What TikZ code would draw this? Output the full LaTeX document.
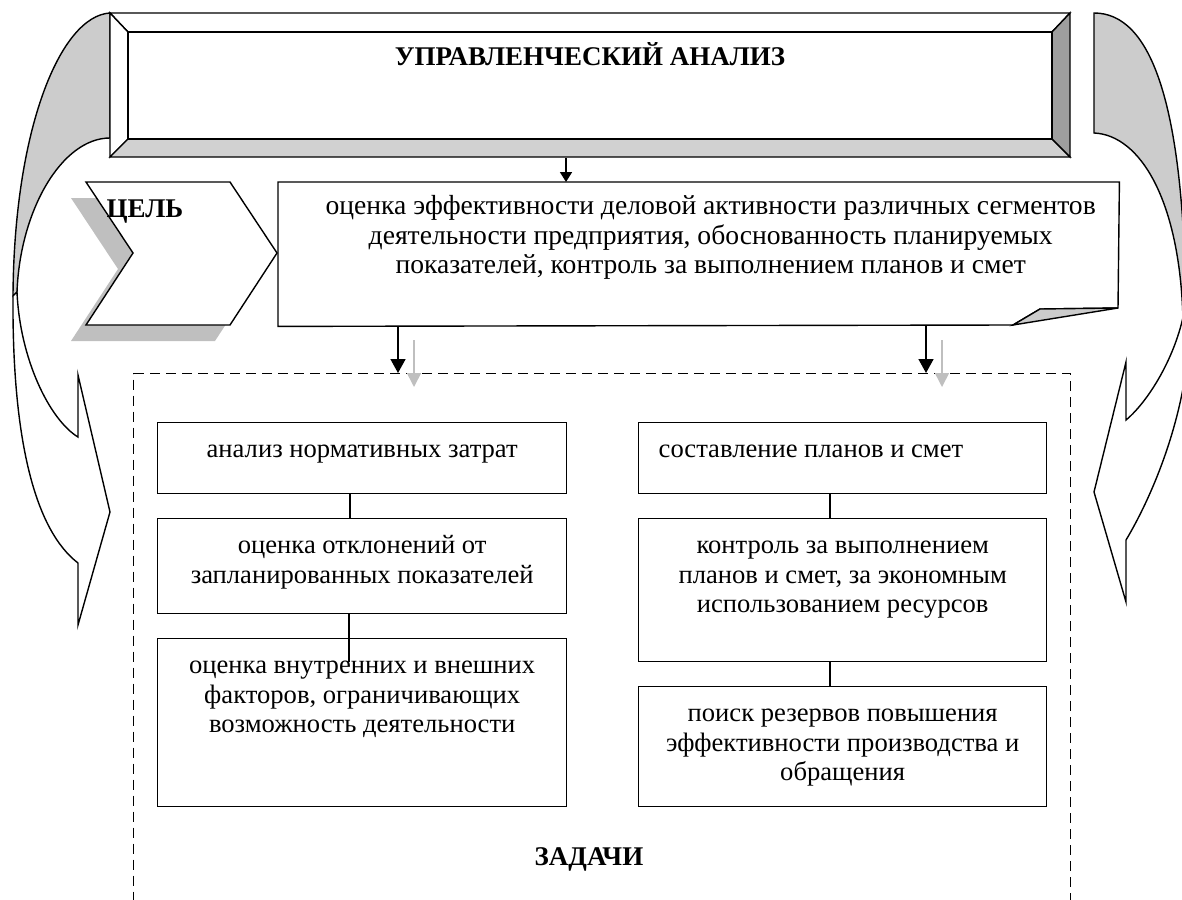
\documentclass[tikz,border=0pt]{standalone}
\usepackage{fontspec}
\setmainfont{Liberation Serif}
\usetikzlibrary{arrows.meta}
\definecolor{backgray}{gray}{0.8}
\definecolor{bevelbottom}{gray}{0.82}
\definecolor{bevelright}{gray}{0.62}
\definecolor{shadowgray}{gray}{0.75}
\definecolor{arrowgray}{gray}{0.75}
\definecolor{foldgray}{gray}{0.8}
\begin{document}
\begin{tikzpicture}[x=1pt,y=-1pt,line width=1.4pt,line join=miter,
  goalfont/.style={font=\fontsize{27.6}{29.5}\selectfont,inner sep=0pt,align=center},
  bodytext/.style={font=\fontsize{26.6}{29.5}\selectfont,inner sep=0pt,align=center},
  headtext/.style={font=\fontsize{27}{29.5}\selectfont\bfseries,inner sep=0pt},
  taskbox/.style={draw,rectangle,anchor=north west,inner sep=0pt},
  blankbox/.style={rectangle,anchor=north west,inner sep=0pt},
  mainarrow/.style={-{Triangle[length=14pt,width=15pt]},line width=1.6pt},
  smallarrow/.style={-{Triangle[length=10pt,width=12pt]},line width=1.6pt},
  greyarrow/.style={draw=arrowgray,-{Triangle[length=14pt,width=14pt]},line width=1.6pt},
  dashedframe/.style={draw,dash pattern=on 10pt off 6pt,line width=1.4pt}]
\useasboundingbox (0,0) rectangle (1182,899);
\clip (0,0) rectangle (1182,899);

% left curved arrow: shaded back band, then white front band with head
\filldraw[fill=backgray] (110,13) .. controls (60,16) and (14,130) .. (13,296)
  -- (17,292) .. controls (20,210) and (62,138) .. (110,138) -- cycle;
\filldraw[fill=white] (13,296) .. controls (12,440) and (35,530) .. (78,563)
  -- (78,625) -- (110,512) -- (78,375) -- (78,437)
  .. controls (50,420) and (20,360) .. (17,292) -- cycle;

% right curved arrow
\filldraw[fill=backgray] (1094,13) .. controls (1150,13) and (1186,100) .. (1186,330)
  -- (1183,320) .. controls (1180,200) and (1140,135) .. (1094,133) -- cycle;
\filldraw[fill=white] (1186,300) .. controls (1180,350) and (1150,400) .. (1126,420)
  -- (1126,362) -- (1094,492) -- (1126,602) -- (1126,540)
  .. controls (1150,500) and (1186,420) .. (1190,330) -- cycle;

% bevelled title frame
\node[blankbox,minimum width=960pt,minimum height=144pt] (title) at (110,13) {};
\filldraw[fill=white] (110,13) -- (1070,13) -- (1052,32) -- (128,32) -- cycle;
\filldraw[fill=white] (110,13) -- (128,32) -- (128,139) -- (110,157) -- cycle;
\filldraw[fill=bevelbottom] (110,157) -- (128,139) -- (1052,139) -- (1070,157) -- cycle;
\filldraw[fill=bevelright] (1070,13) -- (1052,32) -- (1052,139) -- (1070,157) -- cycle;
\filldraw[fill=white] (128,32) rectangle (1052,139);
\node[headtext,anchor=base] (titletext) at (590,65) {УПРАВЛЕНЧЕСКИЙ АНАЛИЗ};

% goal chevron with shadow
\fill[shadowgray] (71,198) -- (215,198) -- (262,269) -- (215,341) -- (71,341) -- (118,269) -- cycle;
\filldraw[fill=white] (86,182) -- (230,182) -- (277,253) -- (230,325) -- (86,325) -- (133,253) -- cycle;
\node[headtext,anchor=base west] (goallabel) at (106,217) {ЦЕЛЬ};

% goal note with folded corner
\node[blankbox,minimum width=840pt,minimum height=143pt] (goal) at (278,182) {};
\filldraw[fill=white] (goal.north west) -- (goal.north east) -- (1118,308)
  -- (1040,309) -- (1013,325) -- (goal.south west) -- cycle;
\filldraw[fill=foldgray] (1013,325) -- (1040,309) -- (1118,308) -- cycle;
\node[goalfont,anchor=north] (goaltext) at ([xshift=12pt,yshift=-11.3pt]goal.north)
  {\strut оценка эффективности деловой активности различных сегментов\\
   деятельности предприятия, обоснованность планируемых\\
   показателей, контроль за выполнением планов и смет};

\draw[smallarrow] ([xshift=456pt]title.south west) -- ([xshift=288pt]goal.north west);

% tasks area
\node[blankbox,dashedframe,minimum width=937pt,minimum height=600pt] (tasks) at (133,373) {};
\draw[mainarrow] ([xshift=120pt]goal.south west) -- ([xshift=265pt]tasks.north west);
\draw[mainarrow] ([xshift=648pt]goal.south west) -- ([xshift=793pt]tasks.north west);
\coordinate (g1s) at (414,340);
\coordinate (g1e) at (414,387);
\coordinate (g2s) at (942,340);
\coordinate (g2e) at (942,387);
\draw[greyarrow] (g1s) -- (g1e);
\draw[greyarrow] (g2s) -- (g2e);

\node[taskbox,minimum width=409pt,minimum height=71pt] (l1) at (157,422) {};
\node[taskbox,minimum width=409pt,minimum height=95pt] (l2) at (157,518) {};
\node[taskbox,minimum width=409pt,minimum height=168pt] (l3) at (157,638) {};
\node[taskbox,minimum width=408pt,minimum height=71pt] (r1) at (638,422) {};
\node[taskbox,minimum width=408pt,minimum height=143pt] (r2) at (638,518) {};
\node[taskbox,minimum width=408pt,minimum height=120pt] (r3) at (638,686) {};

\draw ([xshift=193pt]l1.south west) -- ([xshift=193pt]l2.north west);
\draw ([xshift=192pt]l2.south west) -- ([xshift=192pt,yshift=-24pt]l3.north west);
\draw ([xshift=192pt]r1.south west) -- ([xshift=192pt]r2.north west);
\draw ([xshift=192pt]r2.south west) -- ([xshift=192pt]r3.north west);

\node[bodytext,anchor=north] (l1t) at ([yshift=-14.3pt]l1.north) {\strut анализ нормативных затрат};
\node[bodytext,anchor=north] (l2t) at ([yshift=-14.3pt]l2.north)
  {\strut оценка отклонений от\\запланированных показателей};
\node[bodytext,anchor=north] (l3t) at ([yshift=-14.3pt]l3.north)
  {\strut оценка внутренних и внешних\\факторов, ограничивающих\\возможность деятельности};
\node[bodytext,anchor=north west] (r1t) at ([xshift=20pt,yshift=-14.3pt]r1.north west)
  {\strut составление планов и смет};
\node[bodytext,anchor=north] (r2t) at ([yshift=-14.3pt]r2.north)
  {\strut контроль за выполнением\\планов и смет, за экономным\\использованием ресурсов};
\node[bodytext,anchor=north] (r3t) at ([yshift=-14.3pt]r3.north)
  {\strut поиск резервов повышения\\эффективности производства и\\обращения};

\node[headtext,anchor=base] (taskslabel) at (589,865) {ЗАДАЧИ};
\end{tikzpicture}
\end{document}
